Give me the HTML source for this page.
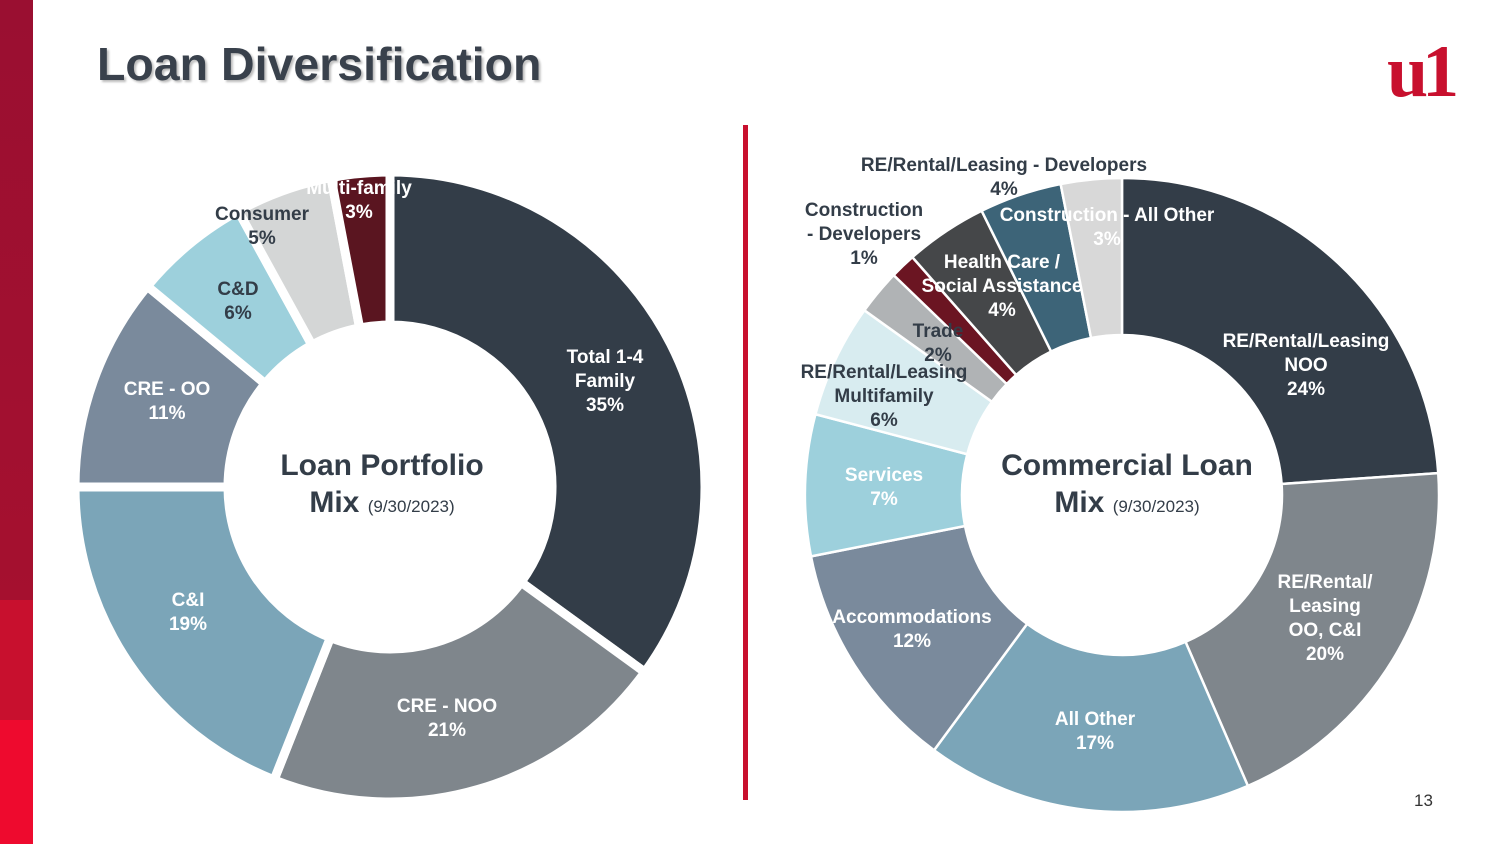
<!DOCTYPE html>
<html><head><meta charset="utf-8"><style>
body{margin:0;width:1500px;height:844px;background:#fff;position:relative;overflow:hidden;font-family:"Liberation Sans",Arial,sans-serif}
.bar{position:absolute;left:0;top:0;width:33px;height:844px;background:linear-gradient(#9a0f31 0,#a5102f 600px,#c8102e 600px,#c8102e 720px,#ee0a2e 720px)}
.title{position:absolute;left:97px;top:37px;font-size:46.5px;font-weight:bold;color:#39414c;text-shadow:2px 2px 2px #bbb}
.logo{position:absolute;left:1387px;top:30px;font-family:"Liberation Serif",serif;font-weight:bold;font-size:74px;color:#c8102e;letter-spacing:-6px}
.div{position:absolute;left:743px;top:125px;width:5px;height:675px;background:#c8102e}
.pg{position:absolute;left:1414px;top:791px;font-size:17px;color:#333}
.l{position:absolute;transform:translate(-50%,-50%);text-align:center;font-size:19px;font-weight:bold;line-height:24px;white-space:nowrap}
.w{color:#fff}.d{color:#333d48}
.c{position:absolute;transform:translate(-50%,-50%);text-align:center;font-size:30px;font-weight:bold;color:#333d48;line-height:37px;white-space:nowrap}
.c span{font-size:17px;font-weight:normal}
</style></head><body>
<div class="bar"></div>
<div class="title">Loan Diversification</div>
<div class="logo">u1</div>
<div class="div"></div>
<div class="pg">13</div>
<svg id="s" width="1500" height="844" style="position:absolute;left:0;top:0"></svg>
<div class="c" style="left:382px;top:486px">Loan Portfolio<br>Mix <span>(9/30/2023)</span></div>
<div class="c" style="left:1127px;top:486px">Commercial Loan<br>Mix <span>(9/30/2023)</span></div>

<div class="l w" style="left:605px;top:382px">Total 1-4<br>Family<br>35%</div>
<div class="l w" style="left:447px;top:719px">CRE - NOO<br>21%</div>
<div class="l w" style="left:188px;top:613px">C&amp;I<br>19%</div>
<div class="l w" style="left:167px;top:402px">CRE - OO<br>11%</div>
<div class="l d" style="left:238px;top:302px">C&amp;D<br>6%</div>
<div class="l d" style="left:262px;top:227px">Consumer<br>5%</div>
<div class="l w" style="left:359px;top:201px">Multi-family<br>3%</div>

<div class="l w" style="left:1306px;top:366px">RE/Rental/Leasing<br>NOO<br>24%</div>
<div class="l w" style="left:1325px;top:619px">RE/Rental/<br>Leasing<br>OO, C&amp;I<br>20%</div>
<div class="l w" style="left:1095px;top:732px">All Other<br>17%</div>
<div class="l w" style="left:912px;top:630px">Accommodations<br>12%</div>
<div class="l w" style="left:884px;top:488px">Services<br>7%</div>
<div class="l d" style="left:884px;top:397px">RE/Rental/Leasing<br>Multifamily<br>6%</div>
<div class="l d" style="left:938px;top:344px">Trade<br>2%</div>
<div class="l d" style="left:864px;top:235px">Construction<br>- Developers<br>1%</div>
<div class="l w" style="left:1002px;top:287px">Health Care /<br>Social Assistance<br>4%</div>
<div class="l d" style="left:1004px;top:178px">RE/Rental/Leasing - Developers<br>4%</div>
<div class="l w" style="left:1107px;top:228px">Construction - All Other<br>3%</div>
<script>
function donut(cx,cy,R,r,data,sw){
 var s=document.getElementById('s'),a=0,ns='http://www.w3.org/2000/svg';
 data.forEach(function(d){
  var a0=a*2*Math.PI/100,a1=(a+d[0])*2*Math.PI/100;a+=d[0];
  var p=function(rr,t){return (cx+rr*Math.sin(t)).toFixed(2)+','+(cy-rr*Math.cos(t)).toFixed(2)};
  var lg=(a1-a0)>Math.PI?1:0;
  var path=document.createElementNS(ns,'path');
  path.setAttribute('d','M'+p(R,a0)+'A'+R+','+R+' 0 '+lg+' 1 '+p(R,a1)+'L'+p(r,a1)+'A'+r+','+r+' 0 '+lg+' 0 '+p(r,a0)+'Z');
  path.setAttribute('fill',d[1]);path.setAttribute('stroke','#fff');path.setAttribute('stroke-width',sw);
  s.appendChild(path);
 });
}
donut(390,487,315,162,[[35,'#333d48'],[21,'#7f868c'],[19,'#7ba5b8'],[11,'#7a8a9c'],[6,'#9dd0dc'],[5,'#d4d6d6'],[3,'#5a1520']],9);
donut(1122,495,317,160,[[23.9,'#333d48'],[19.6,'#7f868c'],[16.6,'#7ba5b8'],[11.8,'#7a8a9c'],[7.2,'#9dd0dc'],[5.8,'#d8ecf0'],[2.3,'#b0b3b5'],[1.3,'#6b1522'],[4.2,'#454749'],[4.2,'#3d6478'],[3.1,'#d8d8d8']],2.5);
</script>
</body></html>
